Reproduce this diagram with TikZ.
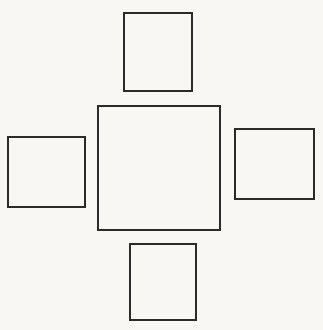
\documentclass[tikz,border=0pt]{standalone}
\usepackage{xcolor}
\usetikzlibrary{positioning}
\definecolor{inkgray}{HTML}{2B2B2B}
\definecolor{paper}{HTML}{F8F7F3}
\tikzset{
  roombox/.style={draw=inkgray,line width=1.1pt,inner sep=0pt,minimum width=#1}
}
\begin{document}
\begin{tikzpicture}[x=1pt,y=-1pt]
\fill[paper] (0,0) rectangle (323,330);
\useasboundingbox (0,0) rectangle (323,330);
\node[roombox=122pt,minimum height=124pt] (hall) at (159,168) {};
\node[roombox=68pt,minimum height=78pt] (north) at (158,52) {};
\node[roombox=77pt,minimum height=70pt] (west) at (46.5,172) {};
\node[roombox=79pt,minimum height=70pt] (east) at (274.5,164) {};
\node[roombox=66pt,minimum height=76pt] (south) at (163,282) {};
\end{tikzpicture}
\end{document}
